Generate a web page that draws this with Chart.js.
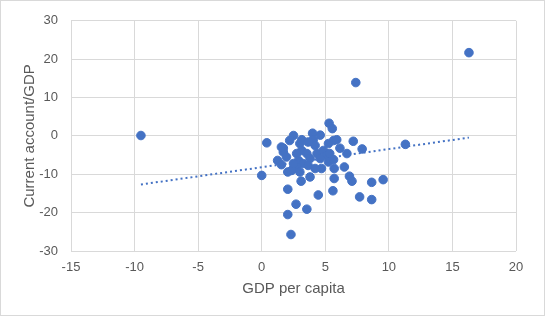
<html>
  <head>
    <style>
      body { margin: 0; background: #fff; }
    </style>
  </head>
  <body>
    <div>
    <canvas id="myChart" width="545" height="316"></canvas>
    </div>
  </body>
</html>

<script src="https://cdn.jsdelivr.net/npm/chart.js"></script>
<script>
  // GDP per capita growth (x) vs current account / GDP (y)
  let gdpPerCapita = [
    -9.5, 16.3, 7.4, 11.3,
    5.3, 5.55, 0.4, 2.5, 4.0, 4.6, 7.2, 7.9,
    1.7, 1.7, 1.25, 1.55, 0.0, 2.05, 2.5, 3.1, 3.8, 4.7, 5.7, 5.7,
    6.5, 6.7, 6.9, 7.1, 5.6, 4.45, 2.05, 2.7, 3.55, 2.05, 2.3,
    8.65, 9.55, 7.7, 8.65,
    2.2, 3.15, 4.05, 3.0, 3.15, 3.55, 2.75, 4.35, 4.85, 5.25, 5.65, 5.9,
    6.15, 5.1, 4.6, 3.8, 2.9, 3.25, 2.75, 3.65, 4.2, 2.35, 3.0, 5.35,
    5.25, 5.65, 4.2, 3.65, 1.95, 1.55, 2.5
  ];
  let currentAccount = [
    0.1, 21.7, 13.9, -2.2,
    3.3, 1.9, -1.8, 0.1, 0.7, 0.2, -1.4, -3.4,
    -3.2, -4.2, -6.4, -7.5, -10.3, -9.4, -8.5, -11.8, -10.7, -8.5, -8.5, -11.1,
    -8.1, -4.6, -10.5, -11.8, -14.3, -15.4, -13.9, -17.8, -19.1, -20.5, -25.7,
    -12.1, -11.4, -15.9, -16.6,
    -1.2, -1.0, -1.0, -2.0, -3.8, -4.6, -4.6, -4.6, -3.8, -2.0, -1.2, -1.0,
    -3.2, -5.1, -5.9, -5.9, -6.4, -7.2, -8.1, -7.7, -8.5, -9.0, -9.4, -4.6,
    -6.8, -6.2, -2.5, -1.6, -5.5, -2.9, -7.2
  ];

  let xTitle = 'GDP per capita';
  let yTitle = 'Current account/GDP';

  let points = gdpPerCapita.map(function(x, i){
    return {x: x, y: currentAccount[i]};
  });

  // linear trendline (least squares), drawn from min x to max x
  function trendline(xs, ys){
    let n = xs.length;
    let mx = xs.reduce((a, b) => a + b, 0) / n;
    let my = ys.reduce((a, b) => a + b, 0) / n;
    let sxy = 0, sxx = 0;
    for(let i = 0; i < n; i++){
      sxy += (xs[i] - mx) * (ys[i] - my);
      sxx += (xs[i] - mx) * (xs[i] - mx);
    }
    let slope = sxy / sxx;
    let icpt = my - slope * mx;
    let x0 = Math.min(...xs), x1 = Math.max(...xs);
    return [{x: x0, y: icpt + slope * x0}, {x: x1, y: icpt + slope * x1}];
  }

  let blue = '#4472C4';
  let grey = '#595959';

  // thin outline round the whole chart
  let frame = {
    id: 'frame',
    afterDraw(chart){
      let c = chart.ctx;
      c.save();
      c.strokeStyle = '#d9d9d9';
      c.lineWidth = 1;
      c.strokeRect(0.5, 0.5, chart.width - 1, chart.height - 1);
      c.restore();
    }
  };

  let data = {
    datasets: [{
      type: 'scatter',
      data: points,
      backgroundColor: blue,
      borderColor: blue,
      pointRadius: 4.3,
      pointHoverRadius: 4.3,
      order: 1
    }, {
      type: 'line',
      data: trendline(gdpPerCapita, currentAccount),
      borderColor: blue,
      borderWidth: 2,
      borderDash: [2, 3],
      pointRadius: 0,
      fill: false,
      order: 2
    }]
  };

  let config = {
    type: 'scatter',
    data: data,
    options: {
      responsive: false,
      animation: false,
      layout: { padding: {left: 17, right: 29, top: 20, bottom: 14} },
      plugins: { legend: {display: false}, tooltip: {enabled: false} },
      scales: {
        x: {
          type: 'linear',
          min: -15, max: 20,
          ticks: { stepSize: 5, color: grey, font: {family: 'Liberation Sans', size: 13}, padding: 9 },
          grid: { color: '#d9d9d9', drawTicks: false },
          border: { display: false },
          title: { display: true, text: xTitle, color: grey, font: {family: 'Liberation Sans', size: 15}, padding: {top: 4, bottom: 4} },
          afterFit: function(s){ s.height = 51; }
        },
        y: {
          min: -30, max: 30,
          ticks: { stepSize: 10, color: grey, font: {family: 'Liberation Sans', size: 13}, padding: 13 },
          grid: { color: '#d9d9d9', drawTicks: false },
          border: { display: false },
          title: { display: true, text: yTitle, color: grey, font: {family: 'Liberation Sans', size: 15}, padding: {top: 4, bottom: 4} },
          afterFit: function(s){ s.width = 54; }
        }
      }
    },
    plugins: [frame]
  };

  let myChart = new Chart(document.getElementById('myChart'), config);
</script>
